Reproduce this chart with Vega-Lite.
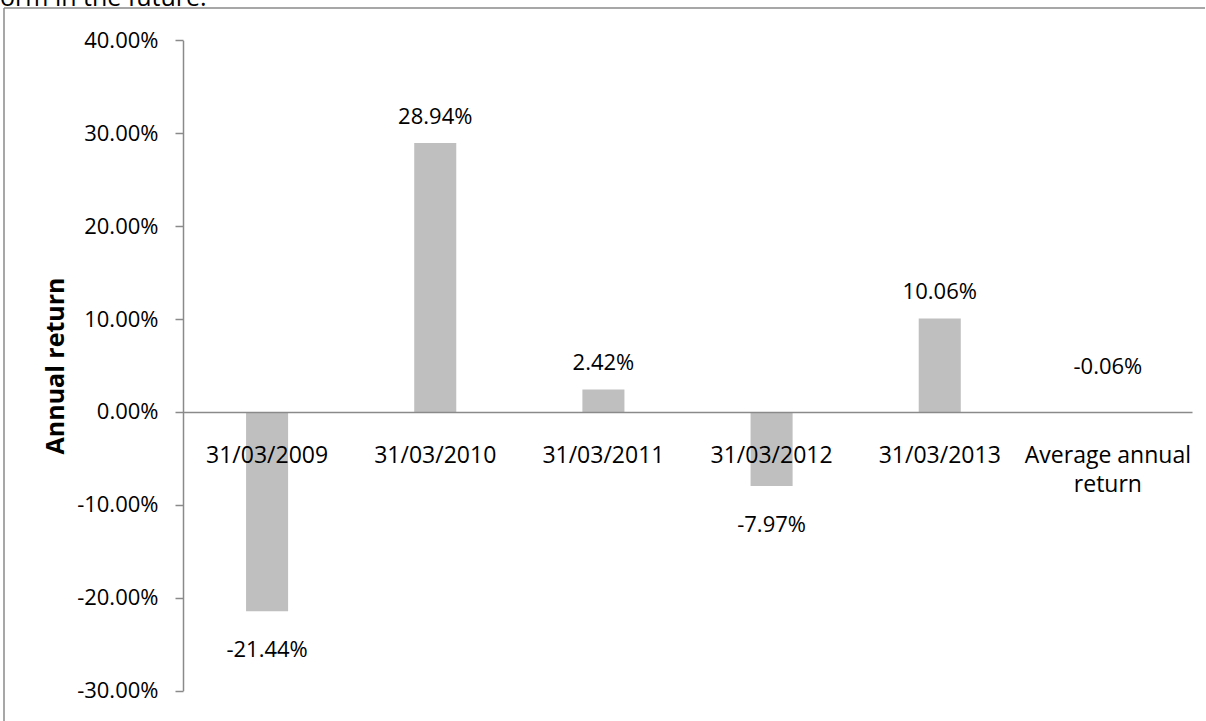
{
  "$schema": "https://vega.github.io/schema/vega-lite/v6.json",
  "width": 1202,
  "height": 713,
  "autosize": {"type": "none"},
  "padding": {"left": 4, "top": 8, "right": 0, "bottom": 0},
  "background": "white",
  "config": {
    "locale": {"number": {"decimal": ".", "thousands": ",", "grouping": [3], "currency": ["$", ""], "minus": "-"}},
    "view": {"stroke": "#8a8a8a", "strokeWidth": 1.5, "strokeDash": [1201, 1916, 713, 0]},
    "font": "Open Sans",
    "text": {"font": "Open Sans", "color": "black"}
  },
  "title": {
    "text": "orm in the future.",
    "anchor": "start",
    "frame": "group",
    "fontSize": 25,
    "fontWeight": "normal",
    "font": "Open Sans",
    "color": "black",
    "baseline": "alphabetic",
    "offset": -23,
    "dx": -4
  },
  "data": {
    "values": [
      {"cat": "31/03/2009", "ret": -0.2144},
      {"cat": "31/03/2010", "ret": 0.2894},
      {"cat": "31/03/2011", "ret": 0.0242},
      {"cat": "31/03/2012", "ret": -0.0797},
      {"cat": "31/03/2013", "ret": 0.1006},
      {"cat": "Average annual return", "ret": -0.0006}
    ]
  },
  "encoding": {
    "x": {
      "field": "cat",
      "type": "nominal",
      "sort": null,
      "scale": {"range": [179, 1188], "paddingInner": 0.75, "paddingOuter": 0.375},
      "axis": {
        "orient": "bottom",
        "offset": -309.1,
        "title": null,
        "ticks": false,
        "tickSize": 0,
        "domainColor": "#8a8a8a",
        "domainWidth": 1.5,
        "labelFont": "Open Sans",
        "labelFontSize": 23,
        "labelColor": "black",
        "labelPadding": 51,
        "labelAngle": 0,
        "labelBaseline": "alphabetic",
        "labelExpr": "datum.label == 'Average annual return' ? ['Average annual', 'return'] : datum.label",
        "labelLineHeight": 29,
        "labelOverlap": false,
        "labelLimit": 0,
        "zindex": 1
      }
    },
    "y": {
      "field": "ret",
      "type": "quantitative",
      "scale": {"domain": [-0.3, 0.4], "range": [682.7, 32.3], "nice": false},
      "axis": {
        "orient": "left",
        "offset": -179,
        "title": "Annual return",
        "titleFont": "Open Sans",
        "titleFontSize": 25,
        "titleFontWeight": "bold",
        "titleColor": "black",
        "titlePadding": 8,
        "values": [-0.3, -0.2, -0.1, 0, 0.1, 0.2, 0.3, 0.4],
        "format": ".2%",
        "labelFont": "Open Sans",
        "labelFontSize": 22,
        "labelColor": "black",
        "labelPadding": 17,
        "tickSize": 8,
        "tickColor": "#8a8a8a",
        "tickWidth": 1.5,
        "domainColor": "#8a8a8a",
        "domainWidth": 1.5,
        "grid": false,
        "labelFlush": false,
        "labelOverlap": false
      }
    }
  },
  "layer": [
    {
      "mark": {"type": "bar", "color": "#bfbfbf"},
      "encoding": {"y2": {"datum": 0}}
    },
    {
      "transform": [{"filter": "datum.ret > 0"}],
      "mark": {"type": "text", "fontSize": 22, "baseline": "alphabetic", "dy": -19},
      "encoding": {"text": {"field": "ret", "type": "quantitative", "format": ".2%"}}
    },
    {
      "transform": [{"filter": "datum.ret < 0 && datum.cat != 'Average annual return'"}],
      "mark": {"type": "text", "fontSize": 22, "baseline": "alphabetic", "dy": 46},
      "encoding": {"text": {"field": "ret", "type": "quantitative", "format": ".2%"}}
    },
    {
      "transform": [{"filter": "datum.cat == 'Average annual return'"}],
      "mark": {"type": "text", "fontSize": 22, "baseline": "alphabetic", "dy": -39},
      "encoding": {"text": {"field": "ret", "type": "quantitative", "format": ".2%"}}
    }
  ]
}
